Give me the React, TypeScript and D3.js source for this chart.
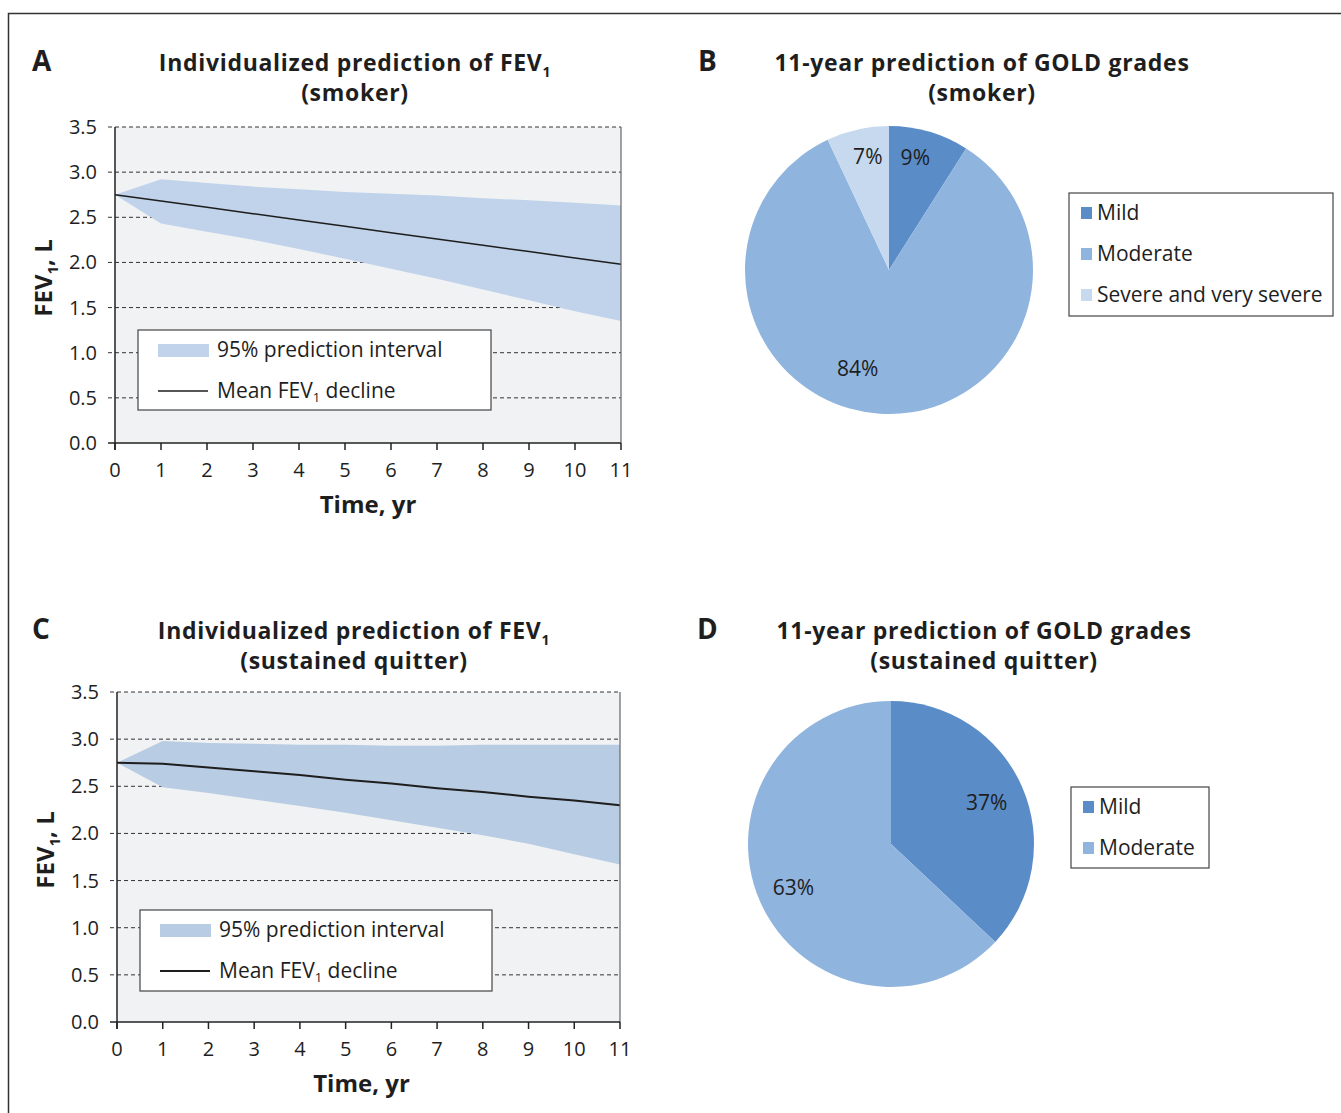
import React from 'react';
import * as d3 from 'd3';

// time axis (years)
const years = [0, 1, 2, 3, 4, 5, 6, 7, 8, 9, 10, 11];
const yTicks = [0, 0.5, 1, 1.5, 2, 2.5, 3, 3.5];

// smoker: 95% prediction interval + mean FEV1
const smokerUpper = [2.75, 2.92, 2.88, 2.84, 2.81, 2.78, 2.76, 2.74, 2.71, 2.69, 2.66, 2.63];
const smokerLower = [2.75, 2.43, 2.34, 2.25, 2.15, 2.04, 1.93, 1.82, 1.70, 1.58, 1.46, 1.35];
const smokerMean = [2.75, 2.68, 2.61, 2.54, 2.47, 2.40, 2.33, 2.26, 2.19, 2.12, 2.05, 1.98];

// sustained quitter
const quitterUpper = [2.75, 2.98, 2.96, 2.95, 2.94, 2.94, 2.93, 2.93, 2.94, 2.94, 2.94, 2.94];
const quitterLower = [2.75, 2.49, 2.43, 2.36, 2.29, 2.22, 2.14, 2.06, 1.98, 1.89, 1.78, 1.67];
const quitterMean = [2.75, 2.74, 2.70, 2.66, 2.62, 2.57, 2.53, 2.48, 2.44, 2.39, 2.35, 2.30];

// GOLD grade pies
const smokerGrades = ['Mild', 'Moderate', 'Severe and very severe'];
const smokerShares = [9, 84, 7];
const quitterGrades = ['Mild', 'Moderate'];
const quitterShares = [37, 63];

const gradeColors = ['#5a8cc8', '#8fb4de', '#c6d9ef'];
const FONT = '"Open Sans", "Noto Sans", sans-serif';
const INK = '#1e1e1e';

type LineProps = {
  x0: number; x1: number; yTop: number; yBot: number;
  upper: number[]; lower: number[]; mean: number[];
  band: string; lineW: number; xLabelShift: number; yLabelShift: number;
  legend: { x: number; y: number; w: number; h: number };
};

const LineChart = ({ x0, x1, yTop, yBot, upper, lower, mean, band, lineW, xLabelShift, yLabelShift, legend }: LineProps) => {
  const x = d3.scaleLinear().domain([0, 11]).range([x0, x1]);
  const y = d3.scaleLinear().domain([0, 3.5]).range([yBot, yTop]);
  const area = d3.area<number>()
    .x((_, i) => x(years[i]))
    .y0((_, i) => y(lower[i]))
    .y1(d => y(d));
  const line = d3.line<number>().x((_, i) => x(years[i])).y(d => y(d));

  return (
    <g fontFamily={FONT}>
      <rect x={x0} y={yTop} width={x1 - x0} height={yBot - yTop} fill="#f0f2f4" />
      {yTicks.filter(t => t > 0).map(t => (
        <line key={t} x1={x0 - 7} x2={x1} y1={y(t)} y2={y(t)} stroke="#333" strokeWidth={1} strokeDasharray="4,3" />
      ))}
      <path d={area(upper) || ''} fill={band} />
      <path d={line(mean) || ''} fill="none" stroke={INK} strokeWidth={lineW} />
      <line x1={x1} x2={x1} y1={yTop} y2={yBot} stroke="#666" strokeWidth={1.2} />
      <line x1={x0} x2={x0} y1={yTop} y2={yBot + 7} stroke="#222" strokeWidth={1.5} />
      <line x1={x0 - 7} x2={x1} y1={yBot} y2={yBot} stroke="#222" strokeWidth={1.5} />
      {years.map(t => (
        <g key={t}>
          <line x1={x(t)} x2={x(t)} y1={yBot} y2={yBot + 7} stroke="#222" strokeWidth={1.5} />
          <text x={x(t)} y={yBot + 34} textAnchor="middle" fontSize={20} fill={INK}>{t}</text>
        </g>
      ))}
      {yTicks.map(t => (
        <text key={t} x={x0 - 18} y={y(t) + 7} textAnchor="end" fontSize={20} fill={INK}>{t.toFixed(1)}</text>
      ))}
      <text x={(x0 + x1) / 2 + xLabelShift} y={yBot + 70} textAnchor="middle" fontSize={24} fontWeight="bold" fill={INK}>Time, yr</text>
      <text transform={`translate(${x0 - 63},${(yTop + yBot) / 2 + yLabelShift}) rotate(-90)`} textAnchor="middle" fontSize={24} fontWeight="bold" fill={INK}>
        FEV<tspan fontSize={15} dy={6}>1</tspan><tspan dy={-6}>, L</tspan>
      </text>
      <rect x={legend.x} y={legend.y} width={legend.w} height={legend.h} fill="#fff" stroke="#444" strokeWidth={1.2} />
      <rect x={legend.x + 20} y={legend.y + 14} width={51} height={13} fill={band} />
      <text x={legend.x + 79} y={legend.y + 27} fontSize={21} fill={INK}>95% prediction interval</text>
      <line x1={legend.x + 20} x2={legend.x + 70} y1={legend.y + 61} y2={legend.y + 61} stroke={INK} strokeWidth={lineW} />
      <text x={legend.x + 79} y={legend.y + 68} fontSize={21} fill={INK}>
        Mean FEV<tspan fontSize={13} dy={4}>1</tspan><tspan dy={-4}> decline</tspan>
      </text>
    </g>
  );
};

type PieProps = {
  cx: number; cy: number; r: number;
  grades: string[]; shares: number[];
  labelR: number[]; labelShift: number[];
  legend: { x: number; y: number; w: number; h: number };
};

const PieChart = ({ cx, cy, r, grades, shares, labelR, labelShift, legend }: PieProps) => {
  const arcs = d3.pie<number>().sort(null)(shares);
  const arc = d3.arc<d3.PieArcDatum<number>>().innerRadius(0).outerRadius(r);
  return (
    <g fontFamily={FONT}>
      {arcs.map((a, i) => (
        <path key={i} transform={`translate(${cx},${cy})`} d={arc(a) || ''} fill={gradeColors[i]} />
      ))}
      {arcs.map((a, i) => {
        const ang = (a.startAngle + a.endAngle) / 2 + (labelShift[i] * Math.PI) / 180;
        const lx = cx + Math.sin(ang) * r * labelR[i];
        const ly = cy - Math.cos(ang) * r * labelR[i];
        return (
          <text key={i} x={lx} y={ly + 7} textAnchor="middle" fontSize={21} fill={INK}>{shares[i]}%</text>
        );
      })}
      <rect x={legend.x} y={legend.y} width={legend.w} height={legend.h} fill="#fff" stroke="#444" strokeWidth={1.2} />
      {grades.map((g, i) => (
        <g key={g}>
          <rect x={legend.x + 12} y={legend.y + 14 + i * 41} width={11} height={12} fill={gradeColors[i]} />
          <text x={legend.x + 28} y={legend.y + 27 + i * 41} fontSize={21} fill={INK}>{g}</text>
        </g>
      ))}
    </g>
  );
};

const Title = ({ x, y, line1, line2, sub }: { x: number; y: number; line1: string; line2: string; sub?: boolean }) => (
  <g fontFamily={FONT} fontWeight="bold" fontSize={23} letterSpacing={0.7} fill={INK} textAnchor="middle">
    <text x={x} y={y}>
      {line1}{sub ? <tspan fontSize={14} dy={6}>1</tspan> : null}
    </text>
    <text x={x} y={y + 30}>{line2}</text>
  </g>
);

const Letter = ({ x, y, t }: { x: number; y: number; t: string }) => (
  <text x={x} y={y} fontFamily={FONT} fontWeight="bold" fontSize={28} fill={INK}>{t}</text>
);

export default function App() {
  return (
    <svg width={1341} height={1113} style={{ position: 'absolute', left: 0, top: 0, background: '#fff' }}>
      <path d="M8.5,1113 V13.5 H1341" fill="none" stroke="#333" strokeWidth={1.5} />

      <Letter x={32} y={71} t="A" />
      <Title x={355} y={71} line1="Individualized prediction of FEV" line2="(smoker)" sub />
      <LineChart x0={115} x1={621} yTop={127} yBot={443}
        upper={smokerUpper} lower={smokerLower} mean={smokerMean} band="#c0d3ea" lineW={1.5}
        xLabelShift={0} yLabelShift={-7}
        legend={{ x: 138, y: 330, w: 353, h: 80 }} />

      <Letter x={698} y={71} t="B" />
      <Title x={982} y={71} line1="11-year prediction of GOLD grades" line2="(smoker)" />
      <PieChart cx={889} cy={270} r={144} grades={smokerGrades} shares={smokerShares}
        labelR={[0.8, 0.72, 0.8]} labelShift={[-3, 14, 2]}
        legend={{ x: 1069, y: 193, w: 264, h: 123 }} />

      <Letter x={32} y={639} t="C" />
      <Title x={354} y={639} line1="Individualized prediction of FEV" line2="(sustained quitter)" sub />
      <LineChart x0={117} x1={620} yTop={692} yBot={1022}
        upper={quitterUpper} lower={quitterLower} mean={quitterMean} band="#b8cce3" lineW={2}
        xLabelShift={-7} yLabelShift={-7}
        legend={{ x: 140, y: 910, w: 352, h: 81 }} />

      <Letter x={697} y={639} t="D" />
      <Title x={984} y={639} line1="11-year prediction of GOLD grades" line2="(sustained quitter)" />
      <PieChart cx={891} cy={844} r={143} grades={quitterGrades} shares={quitterShares}
        labelR={[0.73, 0.75]} labelShift={[0, -1]}
        legend={{ x: 1071, y: 787, w: 138, h: 81 }} />
    </svg>
  );
}
